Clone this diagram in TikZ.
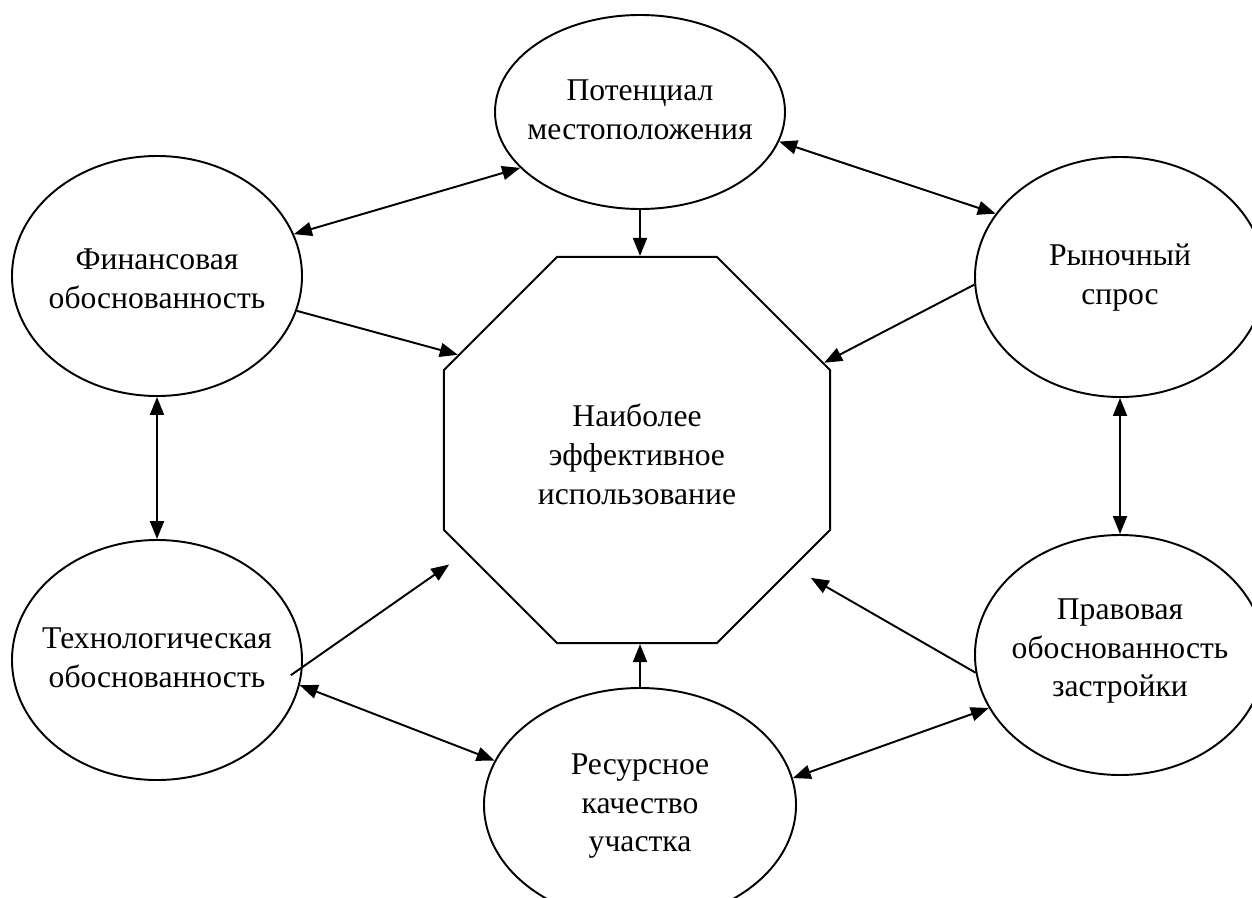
\documentclass[tikz,border=0pt]{standalone}
\usepackage{fontspec}
\setmainfont{Liberation Serif}
\usetikzlibrary{arrows.meta,shapes.geometric}

% centred lines that do not widen the shape around them
\newcommand\ctext[2][0pt]{\makebox[0pt]{\smash{\raisebox{\dimexpr-0.25em-#1\relax}{\begin{tabular}{@{}c@{}}#2\end{tabular}}}}}

\begin{document}
\begin{tikzpicture}[
  factor/.style = {draw, ellipse, line width=1.1pt, inner sep=0pt,
                   minimum width=5.8cm, minimum height=4.8cm,
                   font=\fontsize{18}{22}\selectfont},
  goal/.style   = {draw, regular polygon, regular polygon sides=8,
                   line width=1.1pt, inner sep=0pt, minimum size=8.36cm,
                   font=\fontsize{18}{22}\selectfont},
  link/.style   = {line width=1.1pt, -{Triangle[length=0.36cm,width=0.28cm]}},
  mutual/.style = {line width=1.1pt,
                   {Triangle[length=0.36cm,width=0.28cm]}-{Triangle[length=0.36cm,width=0.28cm]}},
]
  \useasboundingbox (0,0) rectangle (25.04,17.94);
  \clip (0,0) rectangle (25.04,17.94);

  \node[goal] (oct) at (12.74,8.94) {\ctext[0.15cm]{Наиболее\\эффективное\\использование}};

  \node[factor,minimum height=3.88cm] (top) at (12.8,15.70) {\ctext{Потенциал\\местоположения}};
  \node[factor] (fin) at (3.14,12.42) {\ctext[0.1cm]{Финансовая\\обоснованность}};
  \node[factor] (mkt) at (22.4,12.40) {\ctext{Рыночный\\спрос}};
  \node[factor] (tech) at (3.14,4.74) {\ctext{Технологическая\\обоснованность}};
  \node[factor] (law) at (22.4,4.84) {\ctext[-0.1cm]{Правовая\\обоснованность\\застройки}};
  \node[factor,minimum width=6.24cm,minimum height=4.68cm] (res) at (12.8,1.84) {\ctext{Ресурсное\\качество\\участка}};

  % ring of mutual links
  \draw[mutual] (top.205) -- (fin.17);
  \draw[mutual] (top.348) -- (mkt.153);
  \draw[mutual] (fin) -- (tech);
  \draw[mutual] (mkt) -- (law);
  \draw[mutual] (tech.350) -- (res.163);
  \draw[mutual] (res.10) -- (law.202);

  % every factor feeds the centre
  \draw[link] (top.south) -- (top.south |- oct.north);
  \draw[link] (fin.346) -- (oct.152);
  \draw[link] (mkt.183) -- (oct.25);
  \draw[link,shorten >=0.4cm] ([xshift=-0.22cm]tech.354) -- (oct.211);
  \draw[link,shorten >=0.4cm] (law.187) -- (oct.323);
  \draw[link] (res.north) -- (res.north |- oct.south);
\end{tikzpicture}
\end{document}
